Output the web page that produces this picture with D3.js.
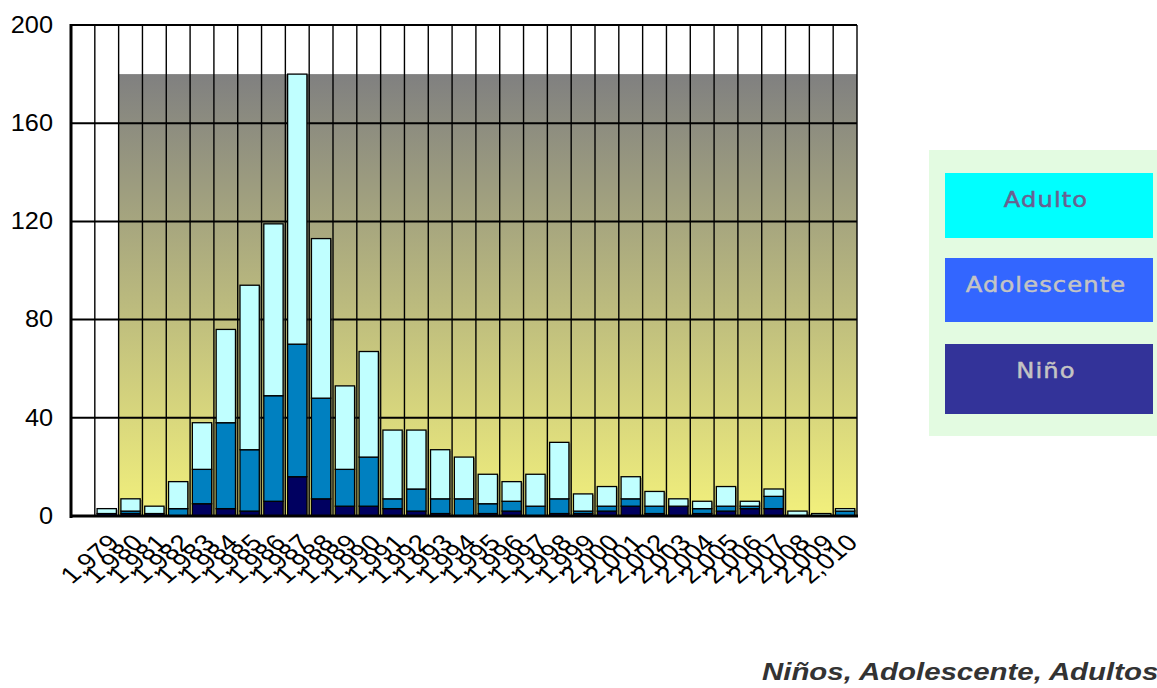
<!DOCTYPE html>
<html>
<head>
<meta charset="utf-8">
<script src="https://cdn.jsdelivr.net/npm/d3@7/dist/d3.min.js"></script>
<style>
  html, body { margin: 0; padding: 0; background: #ffffff; }
  svg { display: block; }
</style>
</head>
<body>
<svg id="chart" width="1157" height="688"></svg>
<script>
// ---- data ----
const years = [1979,1980,1981,1982,1983,1984,1985,1986,1987,1988,1989,1990,1991,1992,1993,1994,1995,1996,1997,1998,1999,2000,2001,2002,2003,2004,2005,2006,2007,2008,2009,2010];
const yearLabels = ["1,979","1,980","1,981","1,982","1,983","1,984","1,985","1,986","1,987","1,988","1,989","1,990","1,991","1,992","1,993","1,994","1,995","1,996","1,997","1,998","1,999","2,000","2,001","2,002","2,003","2,004","2,005","2,006","2,007","2,008","2,009","2,010"];
const nino        = [1,1,1,0, 5, 3, 2, 6, 16, 7, 4, 4,3,2,1,0,1,2,0,1,1,2,4,1,4,1,2,3,3,0,0,0];
const adolescente = [0,1,0,3,14,35,25,43, 54,41,15,20,4,9,6,7,4,4,4,6,1,2,3,3,0,2,2,1,5,0,0,2];
const adulto      = [2,5,3,11,19,38,67,70,110,65,34,43,28,24,20,17,12,8,13,23,7,8,9,6,3,3,8,2,3,2,1,1];
const seriesNames = ["Niño","Adolescente","Adulto"];
const yTicks = [0,40,80,120,160,200];
const backgroundLevel = 180;       // height of the shaded backdrop
const backdropStart = "1,980";     // backdrop begins at this category
const captionText = "Niños, Adolescente, Adultos";

(function () {
// ---- layout ----
const svg = d3.select("#chart");
const pLeft = 71, pRight = 857, pTop = 25, pBottom = 516;
const stretch = 1.2;   // the original picture is horizontally stretched

const cats = [""].concat(yearLabels);   // first cell is empty
const x = d3.scaleBand().domain(cats).range([pLeft, pRight]).padding(0);
const y = d3.scaleLinear().domain([0, 200]).range([pBottom, pTop]);
const barW = x.bandwidth() * 0.81;

const defs = svg.append("defs");
const grad = defs.append("linearGradient").attr("id","bg").attr("x1",0).attr("y1",0).attr("x2",0).attr("y2",1);
grad.append("stop").attr("offset","0%").attr("stop-color","#808080");
grad.append("stop").attr("offset","100%").attr("stop-color","#f2f07c");

// backdrop
svg.append("rect")
  .attr("x", x(backdropStart))
  .attr("y", y(backgroundLevel))
  .attr("width", pRight - x(backdropStart))
  .attr("height", y(0) - y(backgroundLevel))
  .attr("fill", "url(#bg)");

// vertical cell lines
svg.append("g").selectAll("line").data(cats.slice(1)).join("line")
  .attr("x1", d => x(d)).attr("x2", d => x(d))
  .attr("y1", y(200)).attr("y2", y(0))
  .attr("stroke", "#000").attr("stroke-width", 1.4);
svg.append("line").attr("x1", pRight).attr("x2", pRight).attr("y1", y(200)).attr("y2", y(0))
  .attr("stroke", "#000").attr("stroke-width", 1.4);

// horizontal gridlines
svg.append("g").selectAll("line").data(yTicks.filter(d => d > 0)).join("line")
  .attr("x1", pLeft).attr("x2", pRight)
  .attr("y1", d => y(d)).attr("y2", d => y(d))
  .attr("stroke", "#000").attr("stroke-width", 2);

// stacked bars
const rows = years.map((yr, i) => ({ label: yearLabels[i], "Niño": nino[i], "Adolescente": adolescente[i], "Adulto": adulto[i] }));
const stack = d3.stack().keys(seriesNames)(rows);
const colors = { "Niño": "#000060", "Adolescente": "#0080c0", "Adulto": "#c0ffff" };
const total = d => d["Niño"] + d["Adolescente"] + d["Adulto"];

// shadows
svg.append("g").selectAll("rect").data(rows).join("rect")
  .attr("x", d => x(d.label) + (x.bandwidth() - barW) / 2 + 2)
  .attr("y", d => y(total(d)) + 1)
  .attr("width", barW)
  .attr("height", d => y(0) - y(total(d)))
  .attr("fill", "#404040").attr("opacity", 0.45);

stack.forEach(s => {
  svg.append("g").selectAll("rect").data(s.filter(d => d[1] - d[0] > 0)).join("rect")
    .attr("x", d => x(d.data.label) + (x.bandwidth() - barW) / 2)
    .attr("y", d => y(d[1]))
    .attr("width", barW)
    .attr("height", d => y(d[0]) - y(d[1]))
    .attr("fill", colors[s.key])
    .attr("stroke", "#000").attr("stroke-width", 1.3);
});

// axes frame
svg.append("line").attr("x1", pLeft).attr("x2", pRight).attr("y1", y(200)).attr("y2", y(200))
  .attr("stroke", "#000").attr("stroke-width", 2);
svg.append("line").attr("x1", pLeft).attr("x2", pLeft).attr("y1", y(200) - 1).attr("y2", y(0) + 2)
  .attr("stroke", "#000").attr("stroke-width", 3);
svg.append("line").attr("x1", pLeft - 1).attr("x2", pRight + 1).attr("y1", y(0)).attr("y2", y(0))
  .attr("stroke", "#000").attr("stroke-width", 3);

// y axis labels
const yAxis = d3.axisLeft(y).tickValues(yTicks).tickSize(0).tickPadding(18).tickFormat(d3.format("d"));
const gy = svg.append("g").attr("transform", `translate(${pLeft},0)`).call(yAxis);
gy.select(".domain").remove();
gy.selectAll("text")
  .attr("font-family", "Liberation Sans, Arial, sans-serif").attr("font-size", 23).attr("fill", "#000")
  .attr("x", 0)
  .attr("transform", "translate(-18,0) scale(1.1,1)");

// x axis labels
const xAxis = d3.axisBottom(x).tickSize(0).tickFormat(d => d);
const gx = svg.append("g").attr("transform", `translate(0,${pBottom})`).call(xAxis);
gx.select(".domain").remove();
gx.selectAll("text")
  .attr("font-family", "Liberation Sans, Arial, sans-serif").attr("font-size", 23).attr("fill", "#000")
  .attr("text-anchor", "end")
  .attr("dy", 0).attr("y", 0)
  .attr("transform", `translate(14,28) scale(${stretch},1) rotate(-45)`);

// legend
const lg = svg.append("g");
lg.append("rect").attr("x", 929).attr("y", 150).attr("width", 240).attr("height", 286).attr("fill", "#e3fbe1");
const legendItems = [
  { name: "Adulto", fill: "#00ffff", text: "#6a6090", y: 173, h: 65 },
  { name: "Adolescente", fill: "#3366ff", text: "#c4c4c4", y: 258, h: 64 },
  { name: "Niño", fill: "#333399", text: "#c4c4c4", y: 344, h: 70 }
];
lg.selectAll("rect.item").data(legendItems).join("rect").attr("class","item")
  .attr("x", 945).attr("y", d => d.y).attr("width", 208).attr("height", d => d.h).attr("fill", d => d.fill);
lg.selectAll("text").data(legendItems).join("text")
  .attr("x", 0).attr("y", 0)
  .attr("transform", d => `translate(1046,${d.y + 34}) scale(1.1,1)`)
  .attr("text-anchor", "middle")
  .attr("font-family", "DejaVu Sans, Verdana, sans-serif").attr("font-size", 22)
  .attr("letter-spacing", 1)
  .attr("stroke", d => d.text).attr("stroke-width", 0.5)
  .attr("fill", d => d.text).text(d => d.name);

// caption
svg.append("text").attr("x", 0).attr("y", 0)
  .attr("transform", "translate(762,680) scale(1.225,1)")
  .attr("font-family", "Liberation Sans, Arial, sans-serif").attr("font-size", 24)
  .attr("font-weight", "bold").attr("font-style", "italic").attr("fill", "#333")
  .text(captionText);
})();
</script>
</body>
</html>
